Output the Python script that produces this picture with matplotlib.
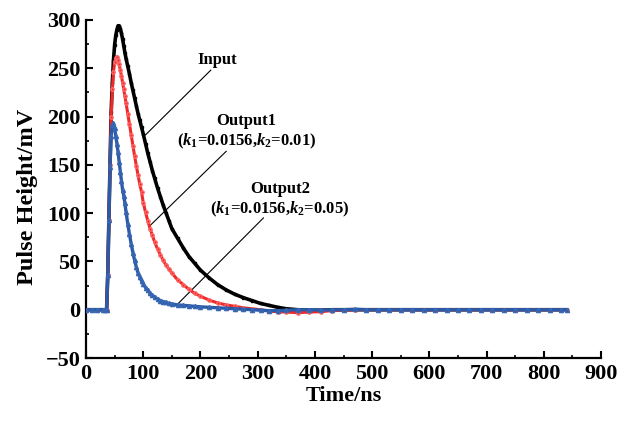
import matplotlib
matplotlib.use("Agg")
import matplotlib.pyplot as plt
from matplotlib.ticker import MultipleLocator

plt.rcParams['font.family'] = ['Liberation Serif', 'DejaVu Serif']
plt.rcParams['font.weight'] = 'bold'
plt.rcParams['axes.labelweight'] = 'bold'
plt.rcParams['mathtext.fontset'] = 'custom'
plt.rcParams['mathtext.rm'] = 'Liberation Serif:bold'
plt.rcParams['mathtext.it'] = 'Liberation Serif:italic:bold'
plt.rcParams['mathtext.bf'] = 'Liberation Serif:bold'

# sample times (ns)
t = [0, 10, 20, 30, 34,
     36, 38, 40, 42, 44, 46, 48, 50, 52, 54, 56, 58, 60, 62, 64, 66, 68, 70,
     73, 76, 79, 82, 85, 88, 91, 94, 97,
     100, 104, 108, 112, 116, 120,
     125, 130, 135, 140, 145, 150,
     160, 170, 180, 190, 200,
     215, 230, 245, 260, 275, 290, 305, 320, 335, 350,
     370, 390, 410, 430, 450, 470, 490, 510, 530, 550, 570, 590,
     610, 630, 650, 670, 690, 710, 730, 750, 770, 790, 810, 830,
     840]

# pulse heights (mV)
v_input = [0, 0, 0, 0, 0,
           0, 36, 93, 150, 205, 235, 258, 274, 284, 290, 294, 294, 291, 286, 280, 273, 266, 260,
           252, 244, 235, 227, 219, 211, 203, 196, 189,
           182, 172, 162, 153, 144, 136,
           126, 117, 108, 100, 92, 84,
           74, 64, 55, 48, 41,
           33, 26, 20.5, 16, 12.5, 9.5, 6.5, 4.5, 2.5, 1,
           0, -0.5, -0.5, 0, 0, 0, 0, 0, 0, 0, 0, 0,
           0, 0, 0, 0, 0, 0, 0, 0, 0, 0, 0, 0,
           0]

v_out1 = [0, 0, 0, 0, 0,
          0, 36, 93, 150, 200, 228, 246, 256, 261, 262, 259, 254, 248, 242, 235, 228, 221, 214,
          203, 192, 181, 170, 159, 149, 139, 130, 122,
          111, 101, 92, 84, 77, 70,
          63, 57, 51, 46, 42, 38,
          31, 26, 21, 17, 14,
          10, 7, 5, 3.5, 2, 1, 0, -1.5, -2, -2.5,
          -3, -2.5, -2, -1, -0.5, 0, 0, 0, 0, 0, 0, 0,
          0, 0, 0, 0, 0, 0, 0, 0, 0, 0, 0, 0,
          0]

v_out2 = [0, 0, 0, 0, 0,
          0, 36, 93, 148, 180, 191, 193, 188, 180, 172, 163, 153, 143, 133, 124, 118, 110, 101,
          89, 78, 68, 59, 51, 44, 38, 34, 30,
          27, 23, 20, 17, 15, 13,
          11, 9.5, 8.5, 7.5, 6.5, 6,
          5, 4.5, 4, 3.5, 3,
          2.5, 2, 1.5, 1, 0.5, 0, -0.5, -1, -1, -0.5,
          0, 0, -0.5, 0, 0, 0.5, 0, 0, 0, 0, 0, 0,
          0, 0, 0, 0, 0, 0, 0, 0, 0, 0, 0, 0,
          0]

fig = plt.figure(figsize=(6.25, 4.21), dpi=100)
ax = fig.add_axes([0.1376, 0.1496, 0.824, 0.803])

ax.plot(t, v_input, color='black', lw=2.6, marker='s', ms=2.0, mec='black', zorder=3)
ax.plot(t, v_out1, color='#ee2a2a', lw=2.2, marker='o', ms=2.4, mec='#ff6a6a', zorder=4)
ax.plot(t, v_out2, color='#2b5aa8', lw=2.4, marker='^', ms=3.0, mec='#3a68b4', zorder=5)

# leader lines and curve labels
ax.plot([218, 104], [248, 181], color='black', lw=0.8)
ax.plot([245, 110], [164, 86], color='black', lw=0.8)
ax.plot([310, 157], [95, 4], color='black', lw=0.8)
ax.text(229, 259, 'Input', ha='center', va='center', fontsize=12)
ax.text(280, 195, 'Output1', ha='center', va='center', fontsize=12)
ax.text(280, 174, r'($k_1$=0.0156,$k_2$=0.01)', ha='center', va='center', fontsize=12)
ax.text(339, 125, 'Output2', ha='center', va='center', fontsize=12)
ax.text(339, 104, r'($k_1$=0.0156,$k_2$=0.05)', ha='center', va='center', fontsize=12)

ax.set_xlim(0, 900)
ax.set_ylim(-50, 300)
ax.xaxis.set_major_locator(MultipleLocator(100))
ax.xaxis.set_minor_locator(MultipleLocator(50))
ax.yaxis.set_major_locator(MultipleLocator(50))
ax.yaxis.set_minor_locator(MultipleLocator(25))
ax.tick_params(which='major', direction='in', length=5, width=1.5, labelsize=16, pad=4)
ax.tick_params(which='minor', direction='in', length=2.5, width=1.2)
ax.spines['top'].set_visible(False)
ax.spines['right'].set_visible(False)
ax.spines['left'].set_linewidth(1.6)
ax.spines['bottom'].set_linewidth(1.6)

ax.set_xlabel('Time/ns', fontsize=16, fontweight='bold', labelpad=2)
ax.set_ylabel('Pulse Height/mV', fontsize=17.5, fontweight='bold')
ax.yaxis.set_label_coords(-0.094, 0.478)

fig.savefig('out.png', dpi=100)
